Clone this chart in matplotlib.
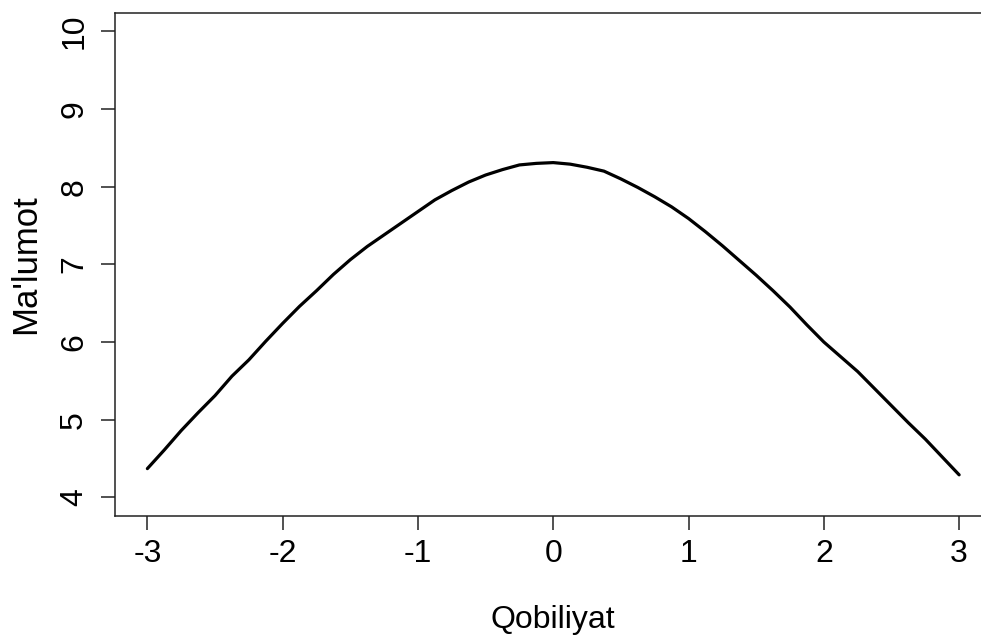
import matplotlib
matplotlib.use("Agg")
import matplotlib.pyplot as plt

# Data
theta = [-3.0, -2.875, -2.75, -2.625, -2.5, -2.375, -2.25, -2.125, -2.0, -1.875, -1.75,
         -1.625, -1.5, -1.375, -1.25, -1.125, -1.0, -0.875, -0.75, -0.625, -0.5, -0.375,
         -0.25, -0.125, 0.0, 0.125, 0.25, 0.375, 0.5, 0.625, 0.75, 0.875, 1.0, 1.125,
         1.25, 1.375, 1.5, 1.625, 1.75, 1.875, 2.0, 2.125, 2.25, 2.375, 2.5, 2.625,
         2.75, 2.875, 3.0]
information = [4.37, 4.61, 4.86, 5.09, 5.31, 5.56, 5.77, 6.01, 6.24, 6.46, 6.66,
               6.87, 7.06, 7.23, 7.38, 7.53, 7.68, 7.83, 7.95, 8.06, 8.15, 8.22,
               8.28, 8.30, 8.31, 8.29, 8.25, 8.20, 8.10, 7.99, 7.87, 7.74, 7.59, 7.42,
               7.24, 7.05, 6.86, 6.66, 6.45, 6.22, 6.00, 5.81, 5.62, 5.40, 5.18, 4.96,
               4.75, 4.52, 4.29]
x_ticks = [-3, -2, -1, 0, 1, 2, 3]
y_ticks = [4, 5, 6, 7, 8, 9, 10]
x_label = "Qobiliyat"
y_label = "Ma'lumot"

plt.rcParams['font.family'] = ['Liberation Sans', 'DejaVu Sans']

W, H = 981, 637
fig = plt.figure(figsize=(W / 100, H / 100), dpi=100)
left, right, top, bottom = 114.9, 991.6, 12.7, 516.0
ax = fig.add_axes([left / W, 1 - bottom / H, (right - left) / W, (bottom - top) / H])

ax.plot(theta, information, color='black', linewidth=2.3,
        solid_joinstyle='round', solid_capstyle='round')

ax.set_xlim(-3.24, 3.24)
ax.set_ylim(3.76, 10.24)
ax.set_xticks(x_ticks)
ax.set_yticks(y_ticks)
ax.set_xticklabels([str(v) for v in x_ticks])
ax.set_yticklabels([str(v) for v in y_ticks], rotation=90, va='center')

for s in ax.spines.values():
    s.set_linewidth(1.1)
    s.set_color('#222222')

ax.tick_params(axis='both', direction='out', length=10, width=1.1, color='#222222',
               labelsize=23, labelcolor='black')
ax.tick_params(axis='x', pad=6.5)
ax.tick_params(axis='y', pad=8.5)

fig.text(553 / W, 1 - 628 / H, x_label, fontsize=23, ha='center', va='baseline')
fig.text(35 / W, 1 - 264 / H, y_label, fontsize=25, ha='center', va='baseline',
         rotation=90, rotation_mode='anchor')

fig.savefig("out.png", dpi=100)
